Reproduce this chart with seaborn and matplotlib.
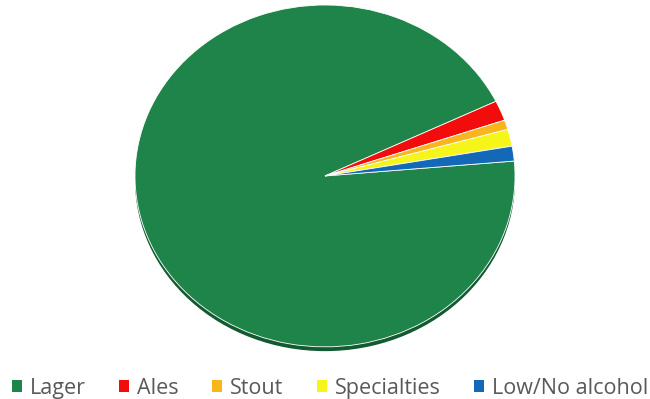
import matplotlib
matplotlib.use("Agg")
import matplotlib.pyplot as plt
from matplotlib.patches import Ellipse
import seaborn as sns

categories = ["Lager", "Ales", "Stout", "Specialties", "Low/No alcohol"]
shares = [94.2, 1.9, 0.9, 1.6, 1.4]
colors_hex = ["#1F8449", "#F20C0C", "#F9B51C", "#F5F51A", "#1468B8"]

sns.set_theme(style="white")
plt.rcParams['font.family'] = ['Open Sans', 'DejaVu Sans']
palette = sns.color_palette(colors_hex)

fig = plt.figure(figsize=(6.5, 3.99), dpi=100)
ax = fig.add_axes([135/650, 1-352/399, 380/650, 347/399])

# soft darker rim/shadow under the pie
shadow = Ellipse((0, -0.025), 2.0, 2.0, facecolor="#145A30", edgecolor="none", zorder=0)
ax.add_patch(shadow)

wedges, _ = ax.pie(shares, colors=palette, startangle=5, counterclock=False,
                   wedgeprops=dict(edgecolor="white", linewidth=0.6), radius=1.0)
for w in wedges:
    w.set_zorder(1)
ax.set_xlim(-1.0, 1.0)
ax.set_ylim(-1.03, 1.0)
ax.set_aspect("auto")
ax.axis("off")

handles = [plt.Rectangle((0, 0), 1, 1, facecolor=c, edgecolor="none") for c in palette]
fig.legend(handles, categories, loc="center", bbox_to_anchor=(0.508, 0.027), ncol=5,
           frameon=False, fontsize=15.5, handlelength=0.47, handleheight=0.47,
           handletextpad=0.37, columnspacing=1.55, labelcolor="#595959",
           borderpad=0, borderaxespad=0)

fig.savefig("out.png", dpi=100, facecolor="white")
